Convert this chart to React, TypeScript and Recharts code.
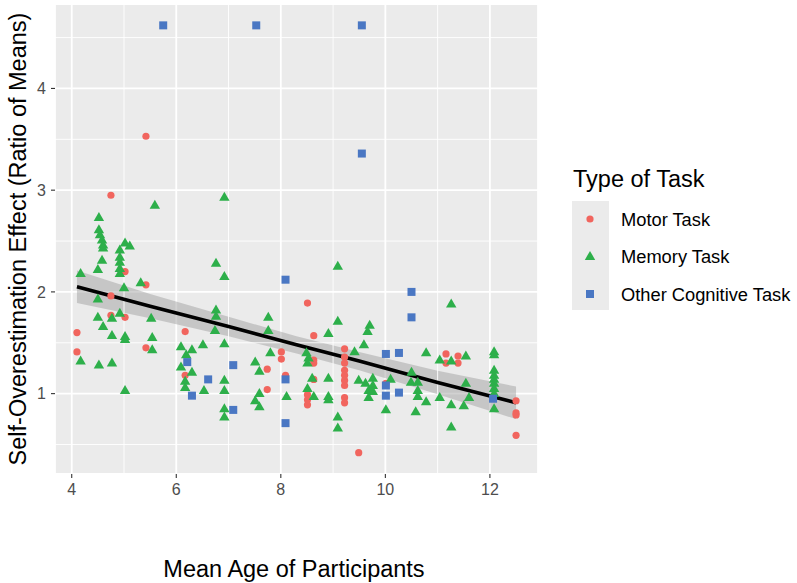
import React from "react";
import {
  ComposedChart,
  Scatter,
  Area,
  Line,
  XAxis,
  YAxis,
  CartesianGrid,
  ReferenceLine,
} from "recharts";

// [mean age, ratio of means]
const motorTask: [number, number][] = [
  [5.42, 3.53], [4.75, 2.95], [5.02, 2.2], [5.42, 2.07], [4.75, 1.96], [4.75, 1.77],
  [5.02, 1.75], [4.1, 1.6], [6.17, 1.61], [4.1, 1.41], [5.42, 1.45], [6.17, 1.18],
  [8.51, 1.89], [8.63, 1.57], [8.01, 1.41], [8.01, 1.34], [9.22, 1.44], [8.63, 1.33],
  [8.63, 1.3], [7.74, 1.24], [8.09, 1.18], [8.63, 1.14], [7.74, 1.04], [9.22, 1.36],
  [9.22, 1.3], [9.22, 1.23], [9.22, 1.18], [9.22, 1.13], [9.22, 1.08], [9.22, 0.96],
  [9.22, 0.91], [8.51, 0.99], [8.51, 0.94], [8.51, 0.89], [9.49, 0.42], [11.16, 1.39],
  [11.39, 1.37], [11.16, 1.3], [11.39, 1.3], [10.01, 1.1], [12.5, 0.93], [12.5, 0.81],
  [12.5, 0.79], [12.5, 0.59],
];

const memoryTask: [number, number][] = [
  [5.59, 2.85], [4.52, 2.73], [4.52, 2.61], [4.54, 2.56], [4.58, 2.51], [4.6, 2.46],
  [4.6, 2.43], [5.02, 2.48], [5.11, 2.45], [4.92, 2.41], [4.92, 2.34], [4.92, 2.29],
  [4.58, 2.31], [4.5, 2.22], [4.92, 2.23], [4.17, 2.18], [4.92, 2.18], [5.32, 2.09],
  [5.0, 2.04], [4.5, 1.93], [4.92, 1.79], [4.5, 1.75], [4.77, 1.74], [5.52, 1.74],
  [6.92, 2.93], [6.76, 2.28], [6.92, 2.15], [9.09, 2.25], [6.76, 1.82], [6.76, 1.76],
  [7.76, 1.75], [9.09, 1.71], [11.26, 1.88], [4.6, 1.66], [4.77, 1.57], [5.02, 1.56],
  [5.02, 1.53], [5.54, 1.55], [5.54, 1.43], [4.17, 1.32], [4.52, 1.28], [4.77, 1.3],
  [5.02, 1.03], [6.09, 1.46], [6.3, 1.43], [6.51, 1.48], [6.19, 1.38], [6.09, 1.26],
  [6.3, 1.21], [6.17, 1.12], [6.17, 1.06], [6.53, 1.03], [6.74, 1.62], [7.76, 1.62],
  [6.92, 1.49], [8.91, 1.59], [7.8, 1.4], [8.49, 1.4], [8.53, 1.35], [8.51, 1.3],
  [7.51, 1.31], [7.59, 1.22], [9.41, 1.41], [6.92, 1.13], [6.92, 1.03], [7.59, 1.0],
  [7.51, 0.93], [7.59, 0.87], [6.92, 0.85], [6.92, 0.77], [8.11, 0.97], [8.6, 1.15],
  [8.51, 1.05], [8.63, 0.97], [8.91, 1.15], [8.91, 0.97], [8.91, 0.94], [9.09, 0.77],
  [9.09, 0.66], [9.49, 1.13], [9.7, 1.67], [9.66, 1.61], [9.59, 1.48], [9.76, 1.15],
  [9.62, 1.1], [9.76, 1.08], [9.68, 1.03], [9.76, 1.02], [9.68, 0.96], [10.1, 1.14],
  [10.01, 0.84], [10.78, 1.4], [11.04, 1.33], [11.26, 1.32], [11.54, 1.37], [10.5, 1.21],
  [10.49, 1.11], [10.62, 1.11], [10.62, 1.03], [10.62, 0.97], [10.78, 0.92], [10.58, 0.82],
  [11.04, 0.96], [11.26, 0.89], [11.26, 0.67], [11.5, 0.88], [11.54, 1.1], [11.6, 0.96],
  [12.08, 1.41], [12.08, 1.38], [12.08, 1.23], [12.08, 1.18], [12.08, 1.14], [12.08, 1.1],
  [12.08, 1.05], [12.08, 1.0], [12.08, 0.85],
];

const otherTask: [number, number][] = [
  [5.75, 4.62], [7.53, 4.62], [9.55, 4.62], [9.55, 3.36], [8.09, 2.12], [10.5, 2.0],
  [10.5, 1.75], [10.01, 1.39], [10.26, 1.4], [10.01, 1.08], [10.01, 0.98], [10.26, 1.01],
  [12.06, 0.95], [6.21, 1.31], [6.61, 1.14], [6.3, 0.98], [7.09, 1.28], [7.09, 0.84],
  [8.09, 1.14], [8.09, 0.71],
];

// linear fit and its confidence band
const fitX = [4.1, 5.5, 7, 8.3, 9.5, 11, 12.5];
const fitY = [2.05, 1.86, 1.66, 1.48, 1.32, 1.11, 0.91];
const fitLow = [1.89, 1.74, 1.565, 1.395, 1.23, 0.995, 0.75];
const fitHigh = [2.21, 1.98, 1.755, 1.565, 1.41, 1.225, 1.07];

const xTicks = [4, 6, 8, 10, 12];
const yTicks = [1, 2, 3, 4];
const xMinor = [5, 7, 9, 11];
const yMinor = [0.5, 1.5, 2.5, 3.5, 4.5];

const legendItems = ["Motor Task", "Memory Task", "Other Cognitive Task"];

const RED = "#F1655E";
const GREEN = "#2DAF4A";
const BLUE = "#4A77C3";
const FONT = "'Liberation Sans', Arial, Helvetica, sans-serif";

const toPoints = (rows: [number, number][]) => rows.map(([x, y]) => ({ x, y }));
const fitRows = fitX.map((x, i) => ({ x, fit: fitY[i], band: [fitLow[i], fitHigh[i]] }));

const Dot = (p: any) => <circle cx={p.cx} cy={p.cy} r={3.6} fill={RED} />;
const Tri = (p: any) => (
  <polygon
    points={`${p.cx},${p.cy - 5.6} ${p.cx - 5.2},${p.cy + 3.4} ${p.cx + 5.2},${p.cy + 3.4}`}
    fill={GREEN}
  />
);
const Sq = (p: any) => <rect x={p.cx - 4} y={p.cy - 4} width={8} height={8} fill={BLUE} />;

const tick = { fill: "#4D4D4D", fontSize: 16, fontFamily: FONT };

export default function App() {
  return (
    <div style={{ position: "absolute", left: 0, top: 0, width: 797, height: 583, background: "#fff" }}>
      <ComposedChart
        width={797}
        height={583}
        data={fitRows}
        margin={{ top: 4, right: 259, bottom: 0, left: 0 }}
      >
        <CartesianGrid fill="#EBEBEB" fillOpacity={1} stroke="#fff" strokeWidth={1.8} />
        {xMinor.map((v) => (
          <ReferenceLine key={`mx${v}`} x={v} stroke="#fff" strokeWidth={0.9} />
        ))}
        {yMinor.map((v) => (
          <ReferenceLine key={`my${v}`} y={v} stroke="#fff" strokeWidth={0.9} />
        ))}
        <XAxis
          type="number"
          dataKey="x"
          domain={[3.68, 12.92]}
          allowDataOverflow
          ticks={xTicks}
          height={109}
          axisLine={false}
          tickLine={{ stroke: "#333", strokeWidth: 1.1 }}
          tickSize={4}
          tickMargin={6}
          tick={tick}
        />
        <YAxis
          type="number"
          domain={[0.21, 4.83]}
          allowDataOverflow
          ticks={yTicks}
          width={55}
          axisLine={false}
          tickLine={{ stroke: "#333", strokeWidth: 1.1 }}
          tickSize={4}
          tickMargin={5}
          tick={tick}
        />
        <Scatter data={toPoints(motorTask)} dataKey="y" shape={Dot} isAnimationActive={false} />
        <Scatter data={toPoints(memoryTask)} dataKey="y" shape={Tri} isAnimationActive={false} />
        <Scatter data={toPoints(otherTask)} dataKey="y" shape={Sq} isAnimationActive={false} />
        <Area
          dataKey="band"
          type="linear"
          stroke="none"
          fill="#999999"
          fillOpacity={0.45}
          isAnimationActive={false}
        />
        <Line
          dataKey="fit"
          type="linear"
          stroke="#000"
          strokeWidth={3.6}
          dot={false}
          isAnimationActive={false}
        />
      </ComposedChart>
      <svg
        width={797}
        height={583}
        style={{ position: "absolute", left: 0, top: 0, pointerEvents: "none" }}
        fontFamily={FONT}
      >
        <text x={294} y={577} textAnchor="middle" fontSize={23.5} fill="#000">
          Mean Age of Participants
        </text>
        <text
          transform="translate(26,239) rotate(-90)"
          textAnchor="middle"
          fontSize={23.5}
          fill="#000"
        >
          Self-Overestimation Effect (Ratio of Means)
        </text>
        <text x={573} y={187} fontSize={23.5} fill="#000">
          Type of Task
        </text>
        <rect x={572} y={201} width={37} height={109} fill="#EBEBEB" />
        {legendItems.map((name, i) => {
          const cy = 219 + i * 37.5;
          return (
            <g key={name}>
              {i === 0 && <Dot cx={590} cy={cy} />}
              {i === 1 && <Tri cx={590} cy={cy} />}
              {i === 2 && <Sq cx={590} cy={cy} />}
              <text x={621} y={cy + 6.5} fontSize={18.3} fill="#000">
                {name}
              </text>
            </g>
          );
        })}
      </svg>
    </div>
  );
}
